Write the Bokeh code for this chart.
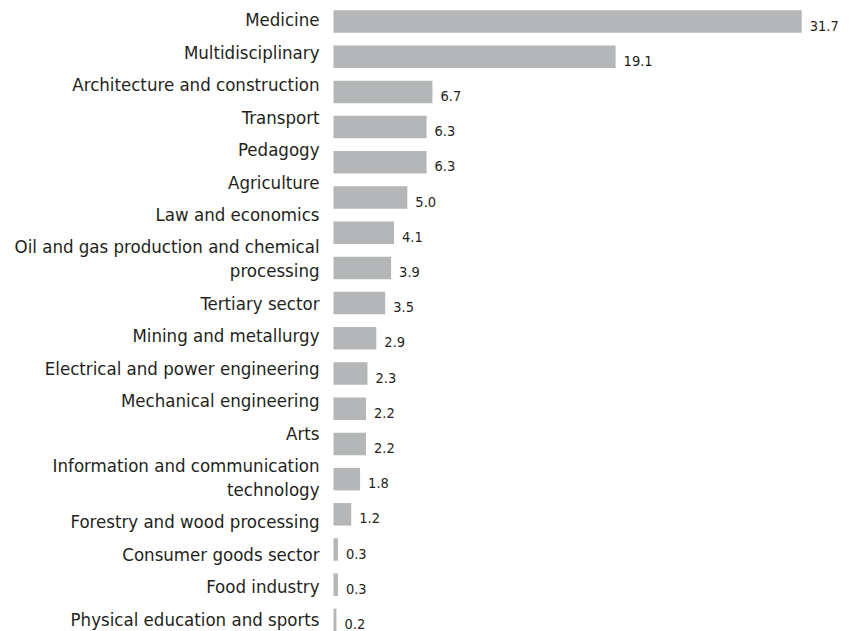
from bokeh.plotting import figure
from bokeh.models import ColumnDataSource, Range1d
from bokeh.core.properties import value
from bokeh.embed import file_html
from bokeh.resources import INLINE

categories = [
    "Medicine",
    "Multidisciplinary",
    "Architecture and construction",
    "Transport",
    "Pedagogy",
    "Agriculture",
    "Law and economics",
    "Oil and gas production and chemical\nprocessing",
    "Tertiary sector",
    "Mining and metallurgy",
    "Electrical and power engineering",
    "Mechanical engineering",
    "Arts",
    "Information and communication\ntechnology",
    "Forestry and wood processing",
    "Consumer goods sector",
    "Food industry",
    "Physical education and sports",
]
shares = [31.7, 19.1, 6.7, 6.3, 6.3, 5.0, 4.1, 3.9, 3.5, 2.9, 2.3, 2.2, 2.2, 1.8, 1.2, 0.3, 0.3, 0.2]

FONT = "DejaVu Sans Condensed"
BAR_COLOR = "#b5b6b8"
TEXT_COLOR = "#231f20"

W, H = 849, 631
n = len(categories)
idx = list(range(n))

# layout constants (pixels)
bar_pitch = 35.2
first_bar = 21.0
x0_px = 333.0
px_per_unit = 14.77

# label text column has its own row pitch (like the original text flow)
row_pitch = 32.5
line_px = 23.5
label_first = 19.0
lab_off = []
extra = 0
for i, c in enumerate(categories):
    nl = c.count("\n") + 1
    centre = label_first + row_pitch * i + line_px * extra + line_px * (nl - 1) / 2.0
    lab_off.append(centre - (first_bar + bar_pitch * i))
    extra += nl - 1

src = ColumnDataSource(dict(
    y=idx,
    share=shares,
    cat=categories,
    txt=[f"{v:.1f}" for v in shares],
    lab_off=lab_off,
))

p = figure(
    width=W, height=H,
    x_range=Range1d(-x0_px / px_per_unit, (W - x0_px) / px_per_unit),
    y_range=Range1d((H - first_bar) / bar_pitch, -first_bar / bar_pitch),
    output_backend="svg", toolbar_location=None,
    min_border=0, outline_line_color=None,
)
p.axis.visible = False
p.grid.visible = False
p.background_fill_color = "white"
p.border_fill_color = "white"

p.hbar(y="y", left=0, right="share", height=22.5 / bar_pitch, source=src,
       fill_color=BAR_COLOR, line_color=None)

p.text(x=0, y="y", text="cat", source=src, x_offset=-14, y_offset="lab_off",
       text_align="right", text_baseline="middle", text_font=value(FONT),
       text_font_size="18.5px", text_color=TEXT_COLOR, text_line_height=1.12)

p.text(x="share", y="y", text="txt", source=src, x_offset=8, y_offset=4,
       text_align="left", text_baseline="middle", text_font=value(FONT),
       text_font_size="14.5px", text_color=TEXT_COLOR)

open("out.html", "w").write(file_html(p, INLINE))
